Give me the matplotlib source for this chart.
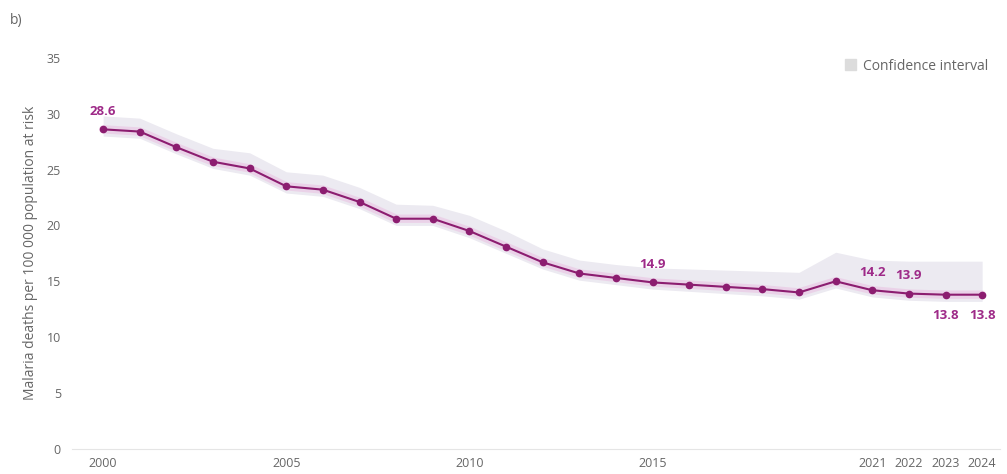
import numpy as np
import matplotlib
matplotlib.use('Agg')
import matplotlib.pyplot as plt
from matplotlib.patches import Patch

plt.rcParams['font.family'] = ['Open Sans', 'DejaVu Sans']

years = list(range(2000, 2025))
deaths = [28.6, 28.4, 27.0, 25.7, 25.1, 23.5, 23.2, 22.1, 20.6, 20.6,
          19.5, 18.1, 16.7, 15.7, 15.3, 14.9, 14.7, 14.5, 14.3, 14.0,
          15.0, 14.2, 13.9, 13.8, 13.8]
ci_upper = [29.8, 29.6, 28.2, 26.9, 26.5, 24.8, 24.5, 23.4, 21.9, 21.8,
            20.9, 19.5, 17.9, 16.9, 16.5, 16.2, 16.1, 16.0, 15.9, 15.8,
            17.6, 16.9, 16.8, 16.8, 16.8]
ci_lower = [28.0, 27.8, 26.4, 25.1, 24.5, 22.9, 22.6, 21.5, 20.0, 20.0,
            18.9, 17.5, 16.1, 15.1, 14.7, 14.3, 14.1, 13.9, 13.7, 13.4,
            14.4, 13.6, 13.3, 13.2, 13.2]
xtick_years = [2000, 2005, 2010, 2015, 2021, 2022, 2023, 2024]
labelled = {2000: (28.6, 'above'), 2015: (14.9, 'above'), 2021: (14.2, 'above'),
            2022: (13.9, 'above'), 2023: (13.8, 'below'), 2024: (13.8, 'below')}

line_col = '#8c1d70'
label_col = '#9e2a88'
grey = '#666666'

fig = plt.figure(figsize=(10.07, 4.74), dpi=100)
ax = fig.add_axes([0.0715, 0.053, 0.922, 0.825])

ax.fill_between(years, ci_lower, ci_upper, color='#eceaf1', lw=0)
# soft pink glow under the line
ax.plot(years, deaths, color='#e9a6d8', lw=6, alpha=0.35, solid_capstyle='round', zorder=2)
ax.plot(years, deaths, color=line_col, lw=1.5, marker='o', ms=4.5, zorder=3)

for yr, (val, pos) in labelled.items():
    dy = 8 if pos == 'above' else -10
    va = 'bottom' if pos == 'above' else 'top'
    ax.annotate(f'{val}', (yr, val), xytext=(0, dy), textcoords='offset points',
                ha='center', va=va, fontsize=9.5, fontweight='bold', color=label_col)

ax.set_xlim(1999.15, 2024.5)
ax.set_ylim(0, 35)
ax.set_yticks(range(0, 36, 5))
ax.set_xticks(xtick_years)
ax.tick_params(length=0, labelsize=9, colors=grey)
ax.tick_params(axis='y', pad=8)
ax.tick_params(axis='x', pad=6)
for s in ['top', 'right', 'left']:
    ax.spines[s].set_visible(False)
ax.spines['bottom'].set_color('#e5e5e5')
ax.set_ylabel('Malaria deaths per 100 000 population at risk', fontsize=10,
              color=grey, labelpad=6)

ax.legend(handles=[Patch(color='#dcdcdc', label='Confidence interval')],
          loc='upper right', bbox_to_anchor=(1.0, 1.03), frameon=False,
          fontsize=10, labelcolor=grey, handlelength=0.8, handleheight=0.8,
          handletextpad=0.5)

fig.text(0.01, 0.95, 'b)', fontsize=10, color=grey)

fig.savefig('out.png', dpi=100)
